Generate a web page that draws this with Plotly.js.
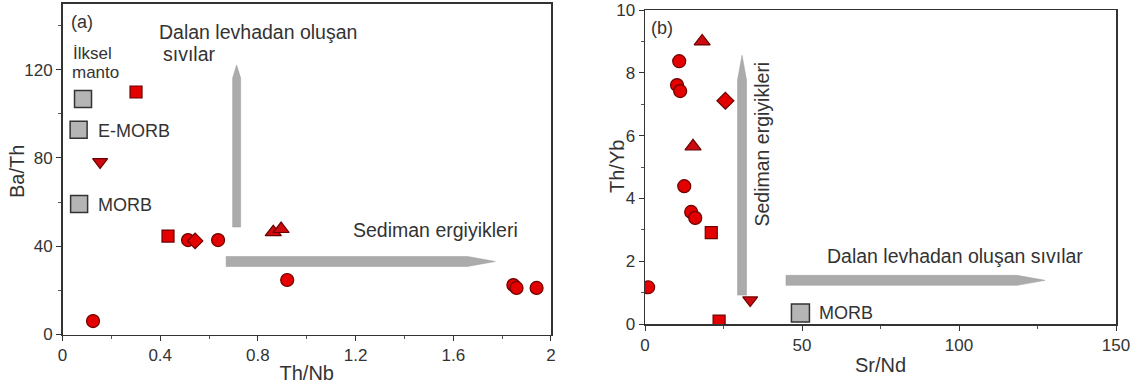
<!DOCTYPE html>
<html>
<head>
<meta charset="utf-8">
<script src="https://cdn.plot.ly/plotly-3.0.1.min.js"></script>
<style>
  html, body { margin: 0; padding: 0; background: #ffffff; }
  #chart { width: 1134px; height: 385px; }
</style>
</head>
<body>
<div id="chart"></div>
<script>
// ---------- Panel (a): Th/Nb vs Ba/Th ----------
const aCircleX   = [0.125, 0.514, 0.637, 0.920, 1.846, 1.859, 1.941];
const aCircleY   = [6.1, 42.8, 42.8, 24.7, 22.4, 21.1, 21.1];
const aSquareX   = [0.301, 0.432];
const aSquareY   = [109.9, 44.6];
const aTriUpX    = [0.863, 0.895];
const aTriUpY    = [46.4, 47.8];
const aTriDownX  = [0.154];
const aTriDownY  = [78.2];
const aDiamondX  = [0.543];
const aDiamondY  = [42.4];
const aRefNames  = ["İlksel manto", "E-MORB", "MORB"];
const aRefX      = [0.084, 0.066, 0.068];
const aRefY      = [106.7, 92.8, 59.1];

// ---------- Panel (b): Sr/Nd vs Th/Yb ----------
const bCircleX   = [10.9, 10.2, 11.2, 12.5, 14.7, 16.0, 1.0];
const bCircleY   = [8.37, 7.61, 7.42, 4.39, 3.57, 3.38, 1.17];
const bSquareX   = [21.1, 23.6];
const bSquareY   = [2.91, 0.09];
const bTriUpX    = [18.2, 15.3];
const bTriUpY    = [9.0, 5.66];
const bTriDownX  = [33.5];
const bTriDownY  = [0.76];
const bDiamondX  = [25.6];
const bDiamondY  = [7.11];
const bRefNames  = ["MORB"];
const bRefX      = [49.5];
const bRefY      = [0.35];

// Tick labels
const aXTicks = [0, 0.4, 0.8, 1.2, 1.6, 2];
const aYTicks = [0, 40, 80, 120];
const bXTicks = [0, 50, 100, 150];
const bYTicks = [0, 2, 4, 6, 8, 10];

// Trend arrows (data coords): start, tip, taper start, constant coordinate
const aArrowV = {x: 0.713, y0: 48.7, y1: 122.1, yt: 116.2, halfPx: 4.0};
const aArrowH = {y: 33.1, x0: 0.670, x1: 1.772, xt: 1.658, halfPx: 5.0};
const bArrowV = {x: 30.9, y0: 0.92, y1: 8.56, yt: 7.77, halfPx: 4.5};
const bArrowH = {y: 1.39, x0: 44.9, x1: 127.4, xt: 118.5, halfPx: 5.0};

const W = 1134, H = 385;
const FONT = 'Arial, "Liberation Sans", sans-serif';
const TXT = '#333333';
const RED = '#e20000';
const REDLINE = '#6e0000';

const aXDom = [62.5 / W, 551 / W];
const aYDom = [1 - 334.5 / H, 1 - 3.5 / H];
const bXDom = [645 / W, 1116 / W];
const bYDom = [1 - 324 / H, 1 - 10 / H];
const aXRange = [0, 2.0001], aYRange = [0, 150];
const bXRange = [0, 150.001], bYRange = [0, 10.001];

function ppuX(dom, rng) { return (dom[1] - dom[0]) * W / (rng[1] - rng[0]); }
function ppuY(dom, rng) { return (dom[1] - dom[0]) * H / (rng[1] - rng[0]); }

function vArrow(a, xdom, xrng) {
  const hw = a.halfPx / ppuX(xdom, xrng);
  return `M ${a.x - hw},${a.y0} L ${a.x - hw},${a.yt} L ${a.x},${a.y1} L ${a.x + hw},${a.yt} L ${a.x + hw},${a.y0} Z`;
}
function hArrow(a, ydom, yrng) {
  const hh = a.halfPx / ppuY(ydom, yrng);
  return `M ${a.x0},${a.y - hh} L ${a.xt},${a.y - hh} L ${a.x1},${a.y} L ${a.xt},${a.y + hh} L ${a.x0},${a.y + hh} Z`;
}

function pts(x, y, sym, size, xa, ya, fill, line, lw) {
  return {
    type: 'scatter', mode: 'markers', x: x, y: y, xaxis: xa, yaxis: ya,
    showlegend: false, hoverinfo: 'x+y',
    marker: {symbol: sym, size: size, color: fill || RED,
             line: {color: line || REDLINE, width: lw || 1.2}}
  };
}

const traces = [
  pts(aRefX, aRefY, 'square', 17, 'x', 'y', '#b5b5b5', '#333333', 1.5),
  pts(aCircleX, aCircleY, 'circle', 13, 'x', 'y'),
  pts(aSquareX, aSquareY, 'square', 12, 'x', 'y'),
  pts(aTriUpX, aTriUpY, 'triangle-up', 14, 'x', 'y', '#cc0a10'),
  pts(aTriDownX, aTriDownY, 'triangle-down', 13, 'x', 'y', '#cc0a10'),
  pts(aDiamondX, aDiamondY, 'diamond', 12, 'x', 'y'),
  pts(bRefX, bRefY, 'square', 18, 'x2', 'y2', '#b5b5b5', '#333333', 1.5),
  pts(bCircleX, bCircleY, 'circle', 13, 'x2', 'y2'),
  pts(bSquareX, bSquareY, 'square', 12, 'x2', 'y2'),
  pts(bTriUpX, bTriUpY, 'triangle-up', 14, 'x2', 'y2', '#cc0a10'),
  pts(bTriDownX, bTriDownY, 'triangle-down', 13, 'x2', 'y2', '#cc0a10'),
  pts(bDiamondX, bDiamondY, 'diamond', 13, 'x2', 'y2')
];

function axis(dom, rng, ticks, dtickMinor, title, standoff) {
  const ax = {
    domain: dom, range: rng, autorange: false,
    tickmode: 'array', tickvals: ticks,
    ticks: 'outside', ticklen: 5, tickwidth: 1, tickcolor: '#333333',
    ticklabeloverflow: 'allow',
    minor: {ticks: 'outside', ticklen: 3, tickwidth: 1, tickcolor: '#555555', dtick: dtickMinor},
    showline: true, linecolor: '#333333', linewidth: 1.5, mirror: true,
    showgrid: false, zeroline: false,
    tickfont: {family: FONT, size: 17, color: TXT},
    fixedrange: true
  };
  if (title) ax.title = {text: title, font: {family: FONT, size: 20, color: TXT}, standoff: standoff};
  return ax;
}

function label(text, x, y, xref, yref, size, xanchor, extra) {
  return Object.assign({
    text: text, x: x, y: y, xref: xref, yref: yref,
    xanchor: xanchor || 'left', yanchor: 'middle', showarrow: false,
    font: {family: FONT, size: size, color: TXT}, borderpad: 0
  }, extra || {});
}

const layout = {
  width: W, height: H,
  margin: {l: 0, r: 0, t: 0, b: 0},
  paper_bgcolor: '#ffffff', plot_bgcolor: '#ffffff',
  showlegend: false,
  xaxis: axis(aXDom, aXRange, aXTicks, 0.2, 'Th/Nb', 1),
  yaxis: Object.assign(axis(aYDom, aYRange, aYTicks, 20, null, 0), {anchor: 'x'}),
  xaxis2: Object.assign(axis(bXDom, bXRange, bXTicks, 25, 'Sr/Nd', 4), {anchor: 'y2'}),
  yaxis2: Object.assign(axis(bYDom, bYRange, bYTicks, 1, null, 0), {anchor: 'x2'}),
  shapes: [
    {type: 'path', xref: 'x', yref: 'y', path: vArrow(aArrowV, aXDom, aXRange),
     fillcolor: '#ababab', line: {color: '#9a9a9a', width: 0.5}, layer: 'below'},
    {type: 'path', xref: 'x', yref: 'y', path: hArrow(aArrowH, aYDom, aYRange),
     fillcolor: '#ababab', line: {color: '#9a9a9a', width: 0.5}, layer: 'below'},
    {type: 'path', xref: 'x2', yref: 'y2', path: vArrow(bArrowV, bXDom, bXRange),
     fillcolor: '#ababab', line: {color: '#9a9a9a', width: 0.5}, layer: 'below'},
    {type: 'path', xref: 'x2', yref: 'y2', path: hArrow(bArrowH, bYDom, bYRange),
     fillcolor: '#ababab', line: {color: '#9a9a9a', width: 0.5}, layer: 'below'}
  ],
  annotations: [
    // y-axis titles
    label('Ba/Th', 17 / W, 1 - 172 / H, 'paper', 'paper', 20, 'center', {textangle: -90}),
    label('Th/Yb', 617 / W, 1 - 167 / H, 'paper', 'paper', 20, 'center', {textangle: -90}),
    // panel (a)
    label('(a)', 0.080, 141.6, 'x', 'y', 18, 'center'),
    label('Dalan levhadan oluşan', 0.389, 137.1, 'x', 'y', 19.5),
    label('sıvılar', 0.408, 127.0, 'x', 'y', 19.5),
    label('İlksel', 0.040, 127.5, 'x', 'y', 17),
    label('manto', 0.033, 118.6, 'x', 'y', 17),
    label('E-MORB', 0.141, 92.2, 'x', 'y', 18),
    label('MORB', 0.141, 58.7, 'x', 'y', 18),
    label('Sediman ergiyikleri', 1.186, 47.5, 'x', 'y', 19.5),
    // panel (b)
    label('(b)', 5.4, 9.42, 'x2', 'y2', 18, 'center'),
    label('Sediman ergiyikleri', 37.3, 5.72, 'x2', 'y2', 19.5, 'center', {textangle: -90}),
    label('Dalan levhadan oluşan sıvılar', 98.7, 2.18, 'x2', 'y2', 19.5, 'center'),
    label('MORB', 55.1, 0.35, 'x2', 'y2', 18)
  ]
};

Plotly.newPlot('chart', traces, layout, {displayModeBar: false, staticPlot: true});
</script>
</body>
</html>
